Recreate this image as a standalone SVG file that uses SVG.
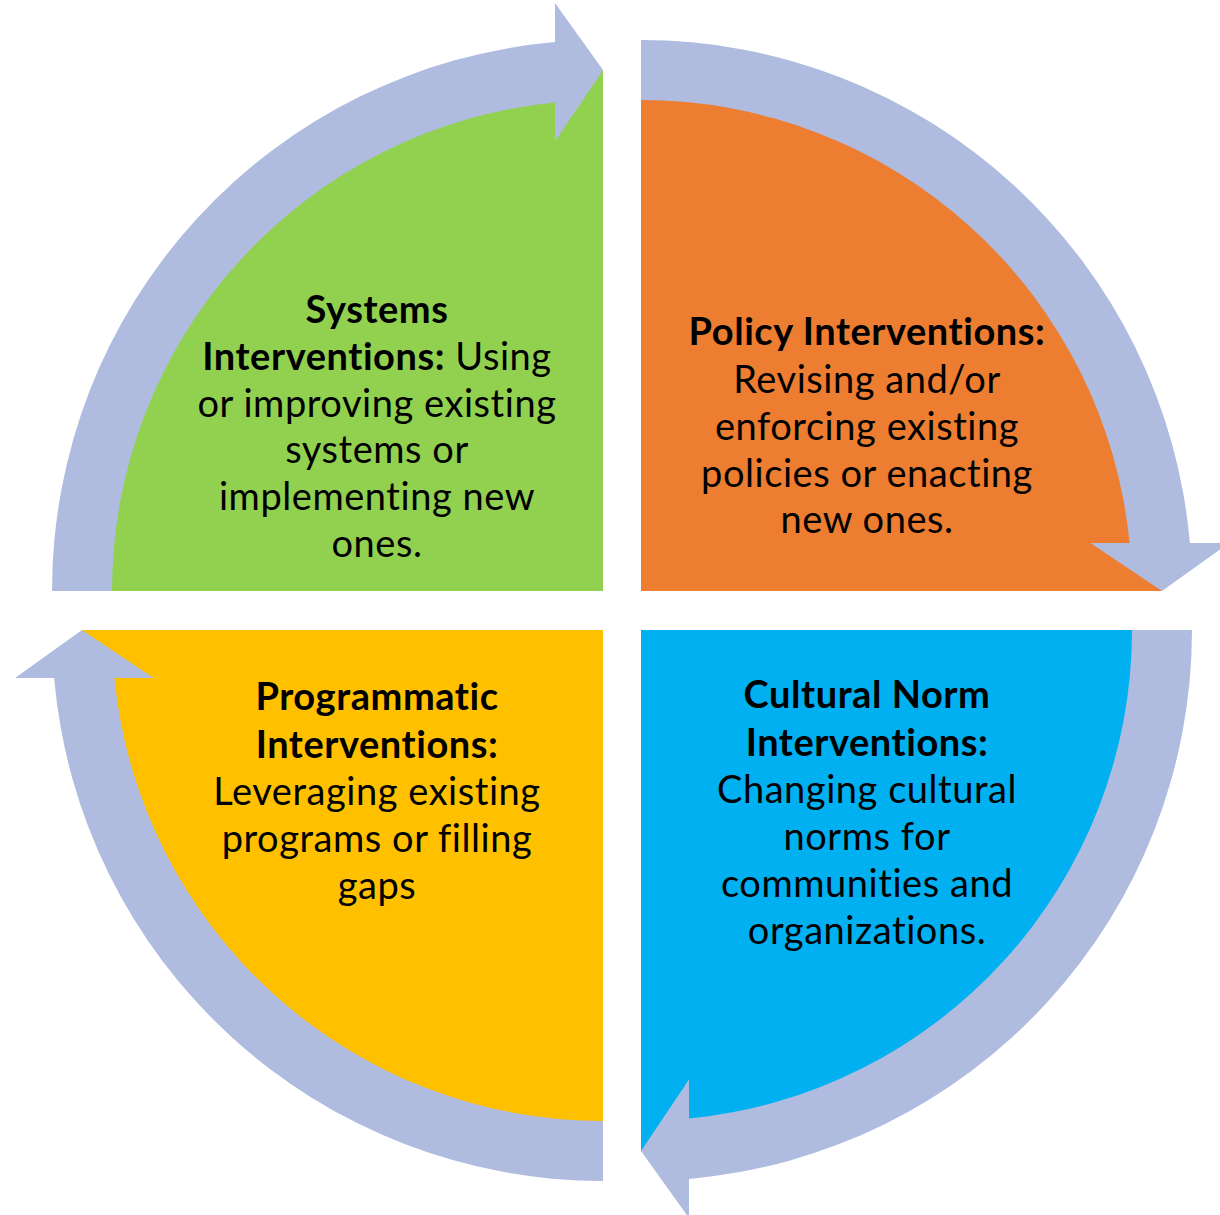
<svg xmlns="http://www.w3.org/2000/svg" width="1220" height="1215" viewBox="0 0 1220 1215">
<style>
.band{fill:#AFBCDF}
.t{font-family:Lato,"Open Sans","Liberation Sans",sans-serif;font-size:38px;letter-spacing:0.55px;fill:#000;text-anchor:middle}
.b{font-weight:bold}
</style>
<rect width="1220" height="1215" fill="#fff"/>
<g id="systems">
<path d="M603,591 L82,591 A521,521 0 0 1 603,70 Z" fill="#92D050"/>
</g>
<g id="policy">
<path d="M641,591 L641,70 A521,521 0 0 1 1162,591 Z" fill="#ED7D31"/>
</g>
<g id="cultural">
<path d="M641,630 L1162,630 A521,521 0 0 1 641,1151 Z" fill="#00B0F0"/>
</g>
<g id="programmatic">
<path d="M603,630 L603,1151 A521,521 0 0 1 82,630 Z" fill="#FFC000"/>
</g>
<g id="connectors">
<path class="band" d="M52,591 A551,551 0 0 1 555,42.1 L555,3 L603,70 L555,141.6 L555,102.4 A491,491 0 0 0 112,591 Z"/>
<path class="band" d="M641,40 A551,551 0 0 1 1189.9,543 L1229,543 L1162,591 L1090.4,543 L1129.6,543 A491,491 0 0 0 641,100 Z"/>
<path class="band" d="M1192,630 A551,551 0 0 1 689,1178.9 L689,1218 L641,1151 L689,1079.4 L689,1118.6 A491,491 0 0 0 1132,630 Z"/>
<path class="band" d="M603,1181 A551,551 0 0 1 54.1,678 L15,678 L82,630 L153.6,678 L114.4,678 A491,491 0 0 0 603,1121 Z"/>
</g>
<g id="systems-text">
<text class="t" x="377" y="323"><tspan class="b">Systems</tspan></text>
<text class="t" x="377" y="370"><tspan class="b">Interventions:</tspan> Using</text>
<text class="t" x="377" y="417">or improving existing</text>
<text class="t" x="377" y="463">systems or</text>
<text class="t" x="377" y="510">implementing new</text>
<text class="t" x="377" y="557">ones.</text>
</g>
<g id="policy-text">
<text class="t b" x="867" y="345">Policy Interventions:</text>
<text class="t" x="867" y="393">Revising and/or</text>
<text class="t" x="867" y="440">enforcing existing</text>
<text class="t" x="867" y="487">policies or enacting</text>
<text class="t" x="867" y="533">new ones.</text>
</g>
<g id="programmatic-text">
<text class="t b" x="377" y="710">Programmatic</text>
<text class="t b" x="377" y="758">Interventions:</text>
<text class="t" x="377" y="805">Leveraging existing</text>
<text class="t" x="377" y="852">programs or filling</text>
<text class="t" x="377" y="899">gaps</text>
</g>
<g id="cultural-text">
<text class="t b" x="867" y="708">Cultural Norm</text>
<text class="t b" x="867" y="756">Interventions:</text>
<text class="t" x="867" y="803">Changing cultural</text>
<text class="t" x="867" y="850">norms for</text>
<text class="t" x="867" y="897">communities and</text>
<text class="t" x="867" y="944">organizations.</text>
</g>
</svg>
